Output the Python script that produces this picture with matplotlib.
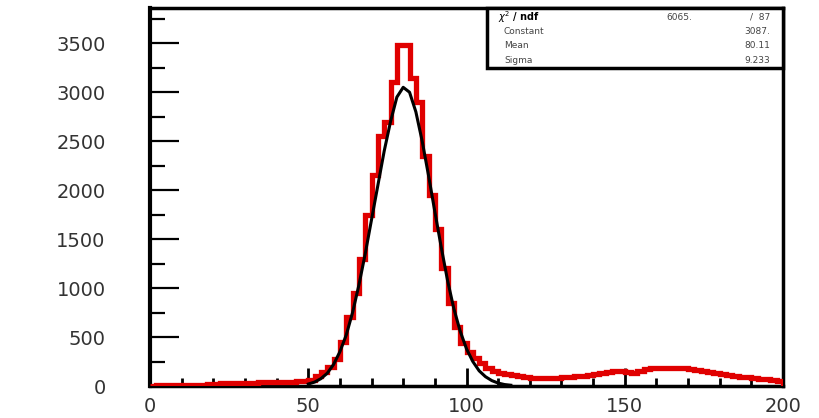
import numpy as np
import matplotlib
matplotlib.use("Agg")
import matplotlib.pyplot as plt
from matplotlib.patches import Rectangle
from matplotlib.ticker import MultipleLocator

#%% ---------------------------------------------------------------
# Data

bin_edges = np.arange(0, 202, 2)          # 100 bins of width 2

counts = [5, 8, 8, 10, 10, 12, 12, 15, 15, 18,
          25, 28, 30, 32, 35, 35, 35, 38, 38, 40, 40, 42, 45, 48, 50,
          60, 100, 140, 190, 280, 450, 700, 950, 1300, 1750, 2150, 2550, 2700,
          3100, 3480, 3480, 3150, 2900, 2350, 1950, 1600, 1200, 850, 600, 440,
          350, 290, 230, 180, 150, 130, 120, 110, 100, 90, 85, 80, 80, 80, 85,
          90, 95, 100, 105, 110, 120, 130, 140, 150, 155,
          140, 135, 150, 170, 180, 185, 185, 185, 180, 180, 170, 160, 150, 140,
          130, 120, 110, 100, 95, 90, 80, 75, 70, 60, 50]

fit_x = [50, 52, 54, 56, 58, 60, 62, 64, 66, 68, 70, 72, 74, 76, 78, 80, 82,
         84, 86, 88, 90, 92, 94, 96, 98, 100, 102, 104, 106, 108, 110, 112, 114]
fit_y = [20, 40, 75, 130, 220, 350, 520, 750, 1030, 1350, 1700, 2050, 2400,
         2700, 2950, 3050, 3000, 2800, 2500, 2150, 1780, 1420, 1080, 790, 560,
         380, 250, 155, 95, 55, 30, 15, 8]

stat_names = ["Constant", "Mean", "Sigma"]
stat_values = ["3087.", "80.11", "9.233"]
chi2_text = ["6065.", "/  87"]

#%% ---------------------------------------------------------------
# Plot

fig = plt.figure(figsize=(8.19, 4.18), dpi=100)
ax = fig.add_axes([150/819, 32/418, 633/819, 378/418])

ax.stairs(counts, bin_edges, color="#e00000", lw=3.8, zorder=3)
ax.plot(fit_x, fit_y, color="black", lw=2.2, zorder=4)

ax.set_xlim(0, 200)
ax.set_ylim(0, 3860)

for s in ax.spines.values():
    s.set_linewidth(2.5)
ax.spines["left"].set_linewidth(3)

ax.xaxis.set_major_locator(MultipleLocator(50))
ax.xaxis.set_minor_locator(MultipleLocator(10))
ax.yaxis.set_major_locator(MultipleLocator(500))
ax.yaxis.set_minor_locator(MultipleLocator(250))

ax.tick_params(axis="x", which="major", direction="in", length=13, width=2,
               pad=8, labelsize=14)
ax.tick_params(axis="x", which="minor", direction="in", length=6, width=2)
ax.tick_params(axis="y", which="major", direction="in", length=21, width=1.6,
               pad=32, labelsize=14)
ax.tick_params(axis="y", which="minor", direction="in", length=11, width=1.6)
for lab in ax.get_xticklabels() + ax.get_yticklabels():
    lab.set_color("#333333")

# stats box
bx0, by0 = (487 - 150) / 633, (386 - 68) / 378
ax.add_patch(Rectangle((bx0, by0), 1 - bx0, 1 - by0, transform=ax.transAxes,
                       facecolor="white", edgecolor="black", lw=2.5,
                       zorder=10, clip_on=False))

rows_y = [(386 - y) / 378 for y in (17, 31, 45, 60)]
lx = (498 - 150) / 633
rx = (770 - 150) / 633
ax.text(lx, rows_y[0], r"$\chi^2$ / ndf", transform=ax.transAxes, fontsize=7,
        fontweight="bold", va="center", ha="left", zorder=11)
ax.text((692 - 150) / 633, rows_y[0], chi2_text[0], transform=ax.transAxes,
        fontsize=6.5, va="center", ha="right", color="#444444", zorder=11)
ax.text(rx, rows_y[0], chi2_text[1], transform=ax.transAxes, fontsize=6.5,
        va="center", ha="right", color="#444444", zorder=11)
for name, val, yy in zip(stat_names, stat_values, rows_y[1:]):
    ax.text((504 - 150) / 633, yy, name, transform=ax.transAxes, fontsize=6.5,
            va="center", ha="left", color="#444444", zorder=11)
    ax.text(rx, yy, val, transform=ax.transAxes, fontsize=6.5,
            va="center", ha="right", color="#444444", zorder=11)

fig.savefig("out.png", dpi=100)
